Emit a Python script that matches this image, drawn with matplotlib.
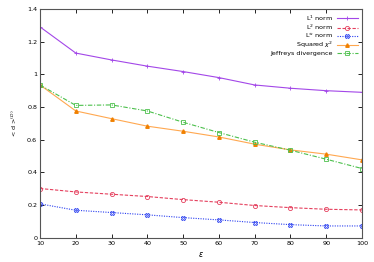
import numpy as np
import matplotlib
matplotlib.use("Agg")
import matplotlib.pyplot as plt

eps = [10, 20, 30, 40, 50, 60, 70, 80, 90, 100]
l1 = [1.29, 1.13, 1.088, 1.05, 1.017, 0.98, 0.935, 0.915, 0.90, 0.89]
l2 = [0.302, 0.281, 0.267, 0.253, 0.234, 0.218, 0.198, 0.185, 0.175, 0.171]
linf = [0.208, 0.169, 0.155, 0.141, 0.124, 0.110, 0.094, 0.081, 0.073, 0.073]
chi2 = [0.935, 0.776, 0.729, 0.683, 0.652, 0.617, 0.573, 0.538, 0.512, 0.477]
jeff = [0.935, 0.81, 0.813, 0.776, 0.707, 0.644, 0.585, 0.536, 0.481, 0.424]

fs = 4.6
fig = plt.figure(figsize=(3.74, 2.62), dpi=100)
ax = fig.add_axes([0.107, 0.092, 0.861, 0.874])

ax.plot(eps, l1, color="#a347e8", lw=0.8, ls="-", marker="+", ms=3, mew=0.6, label="L$^1$ norm")
ax.plot(eps, l2, color="#e5405e", lw=0.8, ls=(0, (3, 1.5)), marker="o", ms=3, mfc="none", mew=0.6, label="L$^2$ norm")
ax.plot(eps, linf, color="#2a3ff0", lw=0.8, ls=(0, (1, 1.2)), marker="X", ms=3, mfc="none", mew=0.6, label="L$^{\\infty}$ norm")
ax.plot(eps, chi2, color="#ffa850", lw=0.8, ls="-", marker="^", ms=2.5, mfc="#f08000", mec="#f08000", label="Squared $\\chi^2$")
ax.plot(eps, jeff, color="#4cc04c", lw=0.8, ls=(0, (4, 1.5, 1, 1.5)), marker="s", ms=3, mfc="none", mew=0.6, label="Jeffreys divergence")

ax.set_xlim(10, 100)
ax.set_ylim(0, 1.4)
ax.set_xticks(eps)
ax.set_yticks([0, 0.2, 0.4, 0.6, 0.8, 1.0, 1.2, 1.4])
ax.set_yticklabels(["0", "0.2", "0.4", "0.6", "0.8", "1", "1.2", "1.4"])
ax.tick_params(direction="in", top=True, right=True, labelsize=fs, length=3, width=0.6, pad=2)
for s in ax.spines.values():
    s.set_linewidth(0.8)
    s.set_color("#555555")

ax.set_xlabel("$\\epsilon$", fontsize=fs + 1, labelpad=3)
ax.set_ylabel("< d >$^{(D)}$", fontsize=fs, labelpad=6)

leg = ax.legend(loc="upper right", fontsize=fs, frameon=False, markerfirst=False,
                handlelength=3.2, handletextpad=0.6, labelspacing=0.0,
                borderaxespad=0.3)
for t in leg.get_texts():
    t.set_ha("right")
leg._legend_box.align = "right"

fig.savefig("out.png", dpi=100)
